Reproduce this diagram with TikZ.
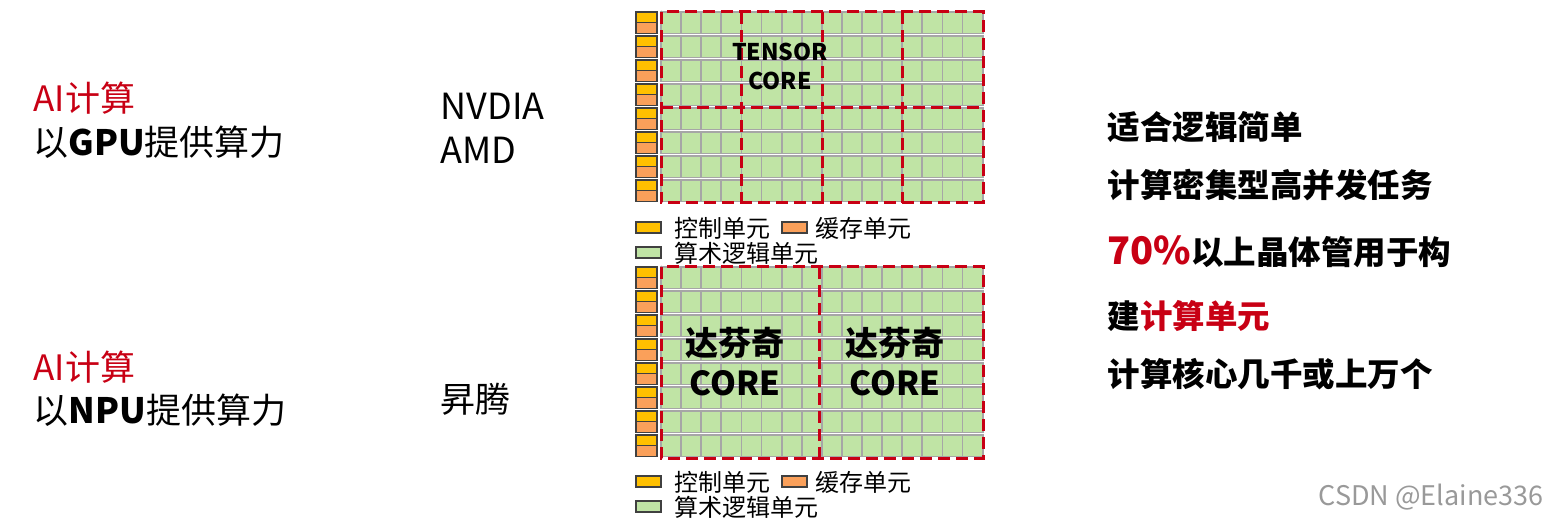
\documentclass[tikz,border=0pt]{standalone}
\usepackage{fontspec}
\setmainfont{Noto Sans CJK SC}
\begin{document}
\begin{tikzpicture}[x=1pt,y=-1pt,
  ctl/.style={draw=black!75,line width=1.6pt,fill={rgb,255:red,255;green,192;blue,0}},
  cache/.style={draw=black!75,line width=1.6pt,fill={rgb,255:red,250;green,160;blue,90}},
  alu/.style={draw=black!35,line width=1.8pt,fill={rgb,255:red,192;green,228;blue,165}},
  core/.style={draw={rgb,255:red,200;green,0;blue,20},line width=3pt,dash pattern=on 12pt off 6pt},
  lg/.style={anchor=west,font=\fontsize{24}{24}\selectfont},
  big/.style={anchor=west,font=\fontsize{35}{35}\selectfont},
  rt/.style={anchor=west,font=\bfseries\fontsize{32.5}{32.5}\selectfont}]
\useasboundingbox (0,0) rectangle (1549,526);
\definecolor{rd}{RGB}{200,0,20}
% grids
\foreach \yb in {12,267}{
  \foreach \r in {0,...,7}{
    \pgfmathsetmacro\ya{\yb+\r*24}
    \draw[ctl] (636,\ya) rectangle (657,\ya+10.5);
    \draw[cache] (636,\ya+10.5) rectangle (657,\ya+21.5);
    \foreach \c in {0,...,15}{
      \draw[alu] (661+\c*20.1,\ya) rectangle (661+\c*20.1+20.1,\ya+21.5);
    }
  }
}
% top cores: outline plus inner lines drawn once
\draw[core] (661,12) rectangle (983,203);
\draw[core] (661,108) -- (983,108);
\foreach \i in {1,2,3}{
  \draw[core] (661+\i*80.5,12) -- (661+\i*80.5,203);
}
% bottom cores
\draw[core] (661,267) rectangle (983,458);
\draw[core] (819,267) -- (819,458);
\node[font=\bfseries\fontsize{23}{29}\selectfont,align=center] (tc) at (780,66) {TENSOR\\CORE};
\node[font=\bfseries\fontsize{33}{40}\selectfont,align=center] (d1) at (735,362) {达芬奇\\CORE};
\node[font=\bfseries\fontsize{33}{40}\selectfont,align=center] (d2) at (895,362) {达芬奇\\CORE};
% legends
\foreach \ly in {222,476}{
  \draw[ctl] (636,\ly) rectangle (661,\ly+11);
  \node[lg] at (671,\ly+6) {控制单元};
  \draw[cache] (782,\ly) rectangle (807,\ly+11);
  \node[lg] at (812,\ly+6) {缓存单元};
  \draw[alu,draw=black!75,line width=1.6pt] (636,\ly+25) rectangle (661,\ly+36);
  \node[lg] at (671,\ly+31) {算术逻辑单元};
}
% left
\node[big,text=rd] (a1) at (30,98) {AI计算};
\node[big] (g1) at (30,142) {以\textbf{GPU}提供算力};
\node[big,text=rd] (a2) at (30,367) {AI计算};
\node[big] (g2) at (30,410) {以\textbf{NPU}提供算力};
\node[big,font=\fontsize{36}{36}\selectfont] (nv) at (437,106) {NVDIA};
\node[big,font=\fontsize{36}{36}\selectfont] (amd) at (437,150) {AMD};
\node[big] (as) at (437,399) {昇腾};
% right
\node[rt] (r1) at (1104,127) {适合逻辑简单};
\node[rt] (r2) at (1104,185) {计算密集型高并发任务};
\node[rt] (r3) at (1104,252) {\textcolor{rd}{\fontsize{38}{38}\selectfont 70\%}以上晶体管用于构};
\node[rt] (r4) at (1104,316) {建\textcolor{rd}{计算单元}};
\node[rt] (r5) at (1104,374) {计算核心几千或上万个};
\node[anchor=east,text=black!40,font=\fontsize{27}{27}\selectfont] (wm) at (1547,497) {CSDN @Elaine336};
\end{tikzpicture}
\end{document}
